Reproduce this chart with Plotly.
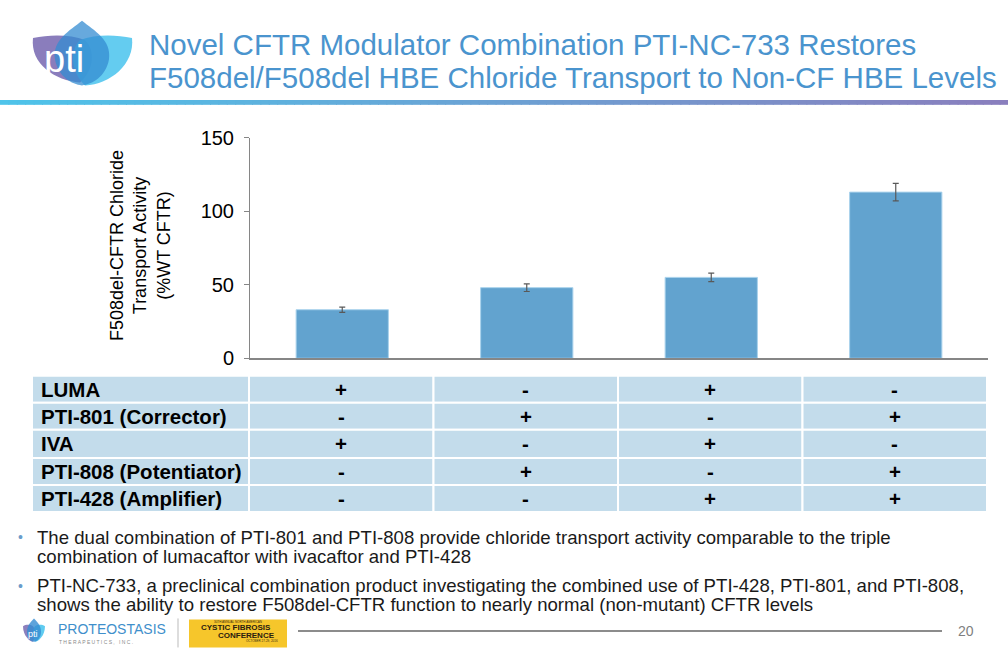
import plotly.graph_objects as go

# ---------------- data ----------------
combos = ["LUMA + IVA", "PTI-801 + PTI-808", "LUMA + IVA + PTI-428", "PTI-801 + PTI-808 + PTI-428"]
activity = [33, 48, 55, 113]
activity_err = [1.8, 2.6, 2.9, 6.0]
y_ticks = [0, 50, 100, 150]

row_labels = ["LUMA", "PTI-801 (Corrector)", "IVA", "PTI-808 (Potentiator)", "PTI-428 (Amplifier)"]
row_signs = [
    ["+", "-", "+", "-"],
    ["-", "+", "-", "+"],
    ["+", "-", "+", "-"],
    ["-", "+", "-", "+"],
    ["-", "-", "+", "+"],
]

title_lines = [
    "Novel CFTR Modulator Combination PTI-NC-733 Restores",
    "F508del/F508del HBE Chloride Transport to Non-CF HBE Levels",
]
bullet_lines = [
    ["The dual combination of PTI-801 and PTI-808 provide chloride transport activity comparable to the triple",
     "combination of lumacaftor with ivacaftor and PTI-428"],
    ["PTI-NC-733, a preclinical combination product investigating the combined use of PTI-428, PTI-801, and PTI-808,",
     "shows the ability to restore F508del-CFTR function to nearly normal (non-mutant) CFTR levels"],
]
page_number = "20"

W, H = 1008, 672
FONT = "Arial, Liberation Sans, sans-serif"


def px(x):
    return x / W


def py(y):
    return 1 - y / H


def ann(text, x, y, size, color, xanchor="center", yanchor="middle", **kw):
    d = dict(text=text, x=px(x), y=py(y), xref="paper", yref="paper", showarrow=False,
             xanchor=xanchor, yanchor=yanchor, borderpad=0,
             font=dict(family=FONT, size=size, color=color))
    d.update(kw)
    return d


fig = go.Figure()

fig.add_trace(go.Bar(
    x=combos, y=activity,
    error_y=dict(type="data", array=activity_err, color="#595959", thickness=1.2, width=3),
    marker=dict(color="#62A3CF", line=dict(color="#A9D2EC", width=1)),
    width=0.5,
    hoverinfo="x+y",
))

shapes = []
annotations = []

# ---------------- table (cells drawn as shapes, text as annotations) ----------------
row_edges = [377, 405, 433, 462, 490, 518]
col_edges = [32, 249, 433.5, 618, 802.5, 987]
for r in range(len(row_labels)):
    y0, y1 = row_edges[r], row_edges[r + 1]
    yc = (y0 + y1) / 2
    for c in range(5):
        shapes.append(dict(type="rect", xref="paper", yref="paper",
                           x0=px(col_edges[c]), x1=px(col_edges[c + 1]), y0=py(y1), y1=py(y0),
                           fillcolor="#C3DCEB", line=dict(color="white", width=2), layer="below"))
    annotations.append(ann("<b>%s</b>" % row_labels[r], 40, yc, 20.5, "black", xanchor="left"))
    for c in range(4):
        xc = (col_edges[c + 1] + col_edges[c + 2]) / 2
        annotations.append(ann("<b>%s</b>" % row_signs[r][c], xc, yc, 20.5, "black"))

# ---------------- gradient band under title ----------------
n = 120
c0 = (79, 196, 234)
c1 = (138, 127, 190)
for i in range(n):
    t = i / (n - 1)
    col = "rgb(%d,%d,%d)" % tuple(int(c0[k] + (c1[k] - c0[k]) * t) for k in range(3))
    shapes.append(dict(type="rect", xref="paper", yref="paper",
                       x0=i / n, x1=(i + 1) / n + 0.001, y0=py(97), y1=py(92),
                       fillcolor=col, line=dict(width=0), layer="above"))


def path_px(pts_str):
    out = []
    for tok in pts_str.split():
        if "," in tok:
            a, b = tok.split(",")
            out.append("%.5f,%.5f" % (px(float(a)), py(float(b))))
        else:
            out.append(tok)
    return " ".join(out)


# ---------------- logo ----------------
petals = [
    ("M 33,28 C 30,55 55,72 80,74 C 95,60 95,40 85,30 C 70,24 50,24 33,28 Z", "rgba(128,114,182,0.92)"),
    ("M 132,28 C 135,55 110,76 85,77 C 70,62 70,40 80,30 C 95,24 115,24 132,28 Z", "rgba(78,197,238,0.88)"),
    ("M 82,10 C 70,20 52,30 55,50 C 58,68 72,76 82,77 C 92,76 106,68 109,50 C 112,30 94,20 82,10 Z", "rgba(52,140,210,0.75)"),
]
for d, c in petals:
    shapes.append(dict(type="path", xref="paper", yref="paper", path=path_px(d),
                       fillcolor=c, line=dict(width=0), layer="above"))
annotations.append(ann("pti", 64, 50, 38, "white"))

# ---------------- title ----------------
for i, line in enumerate(title_lines):
    annotations.append(ann(line, 148, 35 + 34 * i, 29.5, "#4A94CE", xanchor="left"))

# ---------------- y-axis title ----------------
annotations.append(ann("F508del-CFTR Chloride<br>Transport Activity<br>(%WT CFTR)", 140, 243, 18, "black",
                       textangle=-90))

# ---------------- bullets ----------------
ys = [[544, 564], [594, 614]]
for b, lines in enumerate(bullet_lines):
    annotations.append(ann("•", 20, ys[b][0], 14, "#6A9CCB"))
    for k, line in enumerate(lines):
        annotations.append(ann(line, 36, ys[b][k], 18.6, "#1a1a1a", xanchor="left"))

# ---------------- footer ----------------
small_logo = [
    ("M 23,636 C 23,646 30,652 33,652 C 36,646 36,640 33,636 C 30,634 26,634 23,636 Z", "rgba(128,114,182,0.9)"),
    ("M 45,636 C 45,646 38,652 35,652 C 32,646 32,640 35,636 C 38,634 42,634 45,636 Z", "rgba(78,197,238,0.9)"),
    ("M 34,628 C 30,632 27,636 27,642 C 27,648 31,652 34,652 C 37,652 41,648 41,642 C 41,636 38,632 34,628 Z", "rgba(52,140,210,0.8)"),
]
for d, c in small_logo:
    shapes.append(dict(type="path", xref="paper", yref="paper", path=path_px(d),
                       fillcolor=c, line=dict(width=0), layer="above"))
annotations.append(ann("pti", 33, 644, 9, "white"))
annotations.append(ann("PROTEOSTASIS", 57, 639, 14, "#3F8FCB", xanchor="left"))
annotations.append(ann("T H E R A P E U T I C S ,   I N C .", 58, 652, 5, "#8A8A8A", xanchor="left"))
shapes.append(dict(type="line", xref="paper", yref="paper", x0=px(178), x1=px(178), y0=py(628), y1=py(658),
                   line=dict(color="#BBBBBB", width=1)))
shapes.append(dict(type="rect", xref="paper", yref="paper", x0=px(189), x1=px(287), y0=py(658), y1=py(629),
                   fillcolor="#F6C62B", line=dict(width=0)))
annotations.append(ann("30TH ANNUAL NORTH AMERICAN", 238, 631.3, 3, "#3a2a10"))
annotations.append(ann("<b>CYSTIC FIBROSIS</b>", 236, 637.6, 8, "#2a2010"))
annotations.append(ann("<b>CONFERENCE</b>", 276, 645.6, 8, "#2a2010", xanchor="right"))
annotations.append(ann("OCTOBER 27-29, 2016", 262, 651.8, 3, "#3a2a10"))
shapes.append(dict(type="line", xref="paper", yref="paper", x0=px(298), x1=px(942), y0=py(641), y1=py(641),
                   line=dict(color="#8C8C8C", width=2)))
annotations.append(ann(page_number, 966, 641, 14, "#7F7F7F"))

fig.update_layout(
    width=W, height=H,
    margin=dict(l=0, r=0, t=0, b=0),
    paper_bgcolor="white", plot_bgcolor="white",
    showlegend=False,
    shapes=shapes,
    annotations=annotations,
    xaxis=dict(domain=[px(250), px(988)], range=[-0.5, 3.5], showticklabels=False, ticks="",
               showline=True, linecolor="#868686", linewidth=1.5, showgrid=False, zeroline=False,
               fixedrange=True),
    yaxis=dict(domain=[py(359), py(131)], range=[0, 150], tickvals=y_ticks, ticks="outside", ticklen=5,
               tickcolor="#868686", showline=True, linecolor="#868686", linewidth=1, showgrid=False,
               zeroline=False, tickfont=dict(family=FONT, size=20, color="black"), fixedrange=True,
               ticklabelstandoff=6),
)

fig.write_html("out.html", config={"displayModeBar": False},
               post_script="document.body.style.margin='0px';document.body.style.overflow='hidden';")
